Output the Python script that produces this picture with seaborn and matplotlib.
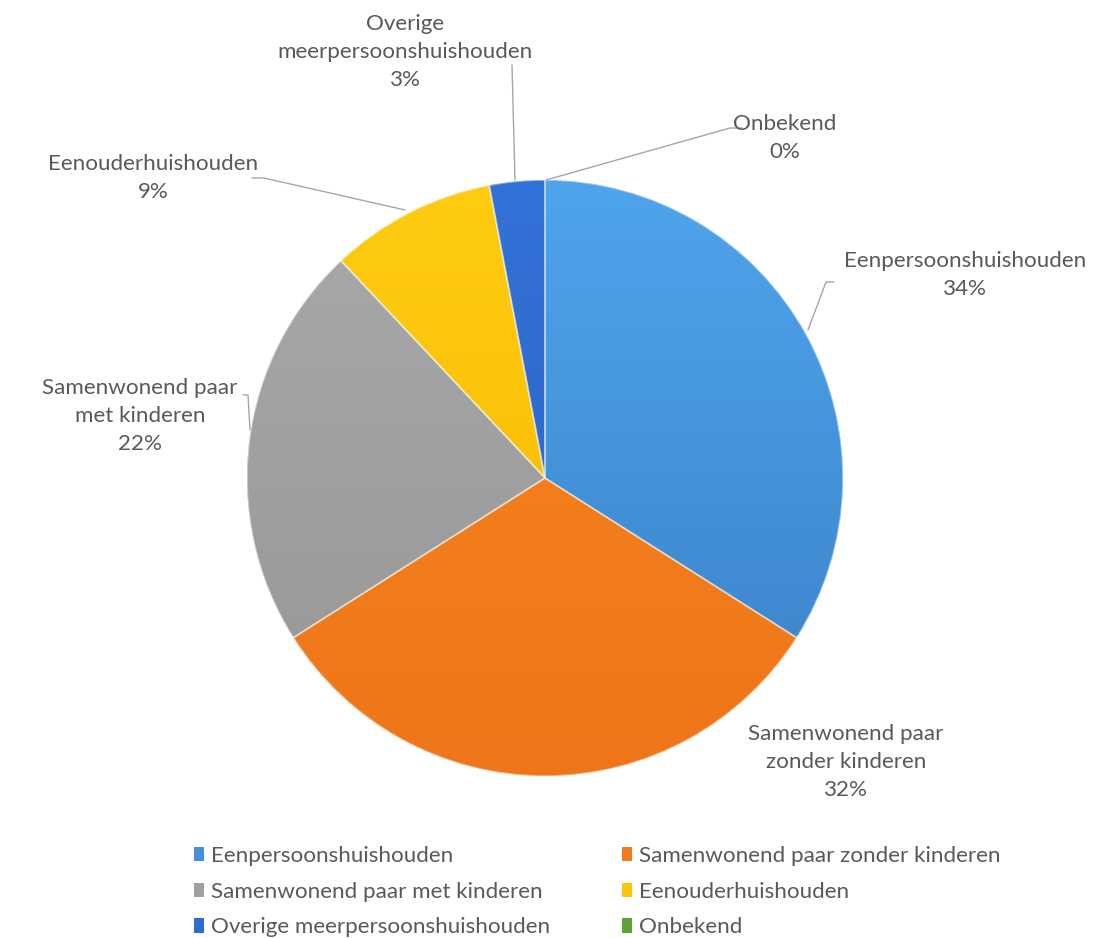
import numpy as np
import matplotlib
matplotlib.use("Agg")
import matplotlib.pyplot as plt
import matplotlib.patches as mpatches
from matplotlib.colors import LinearSegmentedColormap
import seaborn as sns

# ---- data ----
categories = ["Eenpersoonshuishouden", "Samenwonend paar zonder kinderen",
              "Samenwonend paar met kinderen", "Eenouderhuishouden",
              "Overige meerpersoonshuishouden", "Onbekend"]
values = [34, 32, 22, 9, 3, 0]
pct_labels = ["34%", "32%", "22%", "9%", "3%", "0%"]
label_names = ["Eenpersoonshuishouden", "Samenwonend paar\nzonder kinderen",
               "Samenwonend paar\nmet kinderen", "Eenouderhuishouden",
               "Overige\nmeerpersoonshuishouden", "Onbekend"]

# ---- style ----
base_colors = sns.color_palette(["#4590D8", "#F27B1E", "#A0A0A0", "#FFC20A", "#2F6CD0", "#5FA336"])
top_colors = ["#4FA4EC", "#F9871F", "#A9A9A9", "#FFCC12", "#3372D8", "#6AB23E"]
bot_colors = ["#3A80C6", "#EE7519", "#969696", "#F4B800", "#2A62C0", "#549630"]
text_color = "#595959"
line_color = "#A6A6A6"

sns.set_theme(style="white")
plt.rcParams['font.family'] = ['Lato', 'DejaVu Sans']

W, H = 1110, 938
fig = plt.figure(figsize=(W / 100, H / 100), dpi=100)
ax = fig.add_axes([0, 0, 1, 1])

def Y(y):
    return H - y

cx, cy, R = 545, Y(478), 298
wedges, _ = ax.pie(values, colors=base_colors, startangle=90, counterclock=False,
                   center=(cx, cy), radius=R,
                   wedgeprops=dict(linewidth=0))

grad = np.linspace(0, 1, 256).reshape(-1, 1)
for i, w in enumerate(wedges):
    if values[i] <= 0:
        continue
    cmap = LinearSegmentedColormap.from_list(f"g{i}", [top_colors[i], bot_colors[i]])
    im = ax.imshow(grad, extent=(cx - R, cx + R, cy - R, cy + R), origin="upper",
                   cmap=cmap, aspect="auto", zorder=2)
    im.set_clip_path(w)
    ax.add_patch(mpatches.Wedge(w.center, w.r, w.theta1, w.theta2, facecolor="none",
                                edgecolor=(1, 1, 1, 0.45), linewidth=1.2, zorder=3))

fs = 16.1
# labels
label_pos = [(965, 275), (846, 762), (140, 416), (153, 178), (405, 52), (785, 138)]
for i, (lx, ly) in enumerate(label_pos):
    ax.text(lx, Y(ly), label_names[i] + "\n" + pct_labels[i], ha="center", va="center",
            fontsize=fs, color=text_color, linespacing=1.52, zorder=5)

# leader lines
leaders = [
    [(808, 330), (826, 282), (834, 282)],
    [(250, 430), (248, 395), (243, 395)],
    [(405, 210), (264, 178), (252, 178)],
    [(515, 180), (512, 65)],
    [(546, 180), (730, 128), (742, 128)],
]
for pts in leaders:
    xs = [p[0] for p in pts]
    ys = [Y(p[1]) for p in pts]
    ax.plot(xs, ys, color=line_color, linewidth=1.0, zorder=4)

# legend (row-wise order)
order = [0, 2, 4, 1, 3, 5]
handles = [mpatches.Patch(facecolor=base_colors[i], edgecolor="none") for i in order]
labels = [categories[i] for i in order]
ax.legend(handles, labels, ncol=2, loc="upper left",
          bbox_to_anchor=(194 / W, 1 - 846 / H), frameon=False,
          handlelength=0.45, handleheight=0.6, handletextpad=0.32,
          columnspacing=3.2, labelspacing=0.7, borderpad=0, borderaxespad=0,
          prop={"size": fs}, labelcolor=text_color)

ax.set_xlim(0, W)
ax.set_ylim(0, H)
ax.set_aspect("equal")
ax.axis("off")

fig.savefig("out.png", dpi=100, facecolor="white")
